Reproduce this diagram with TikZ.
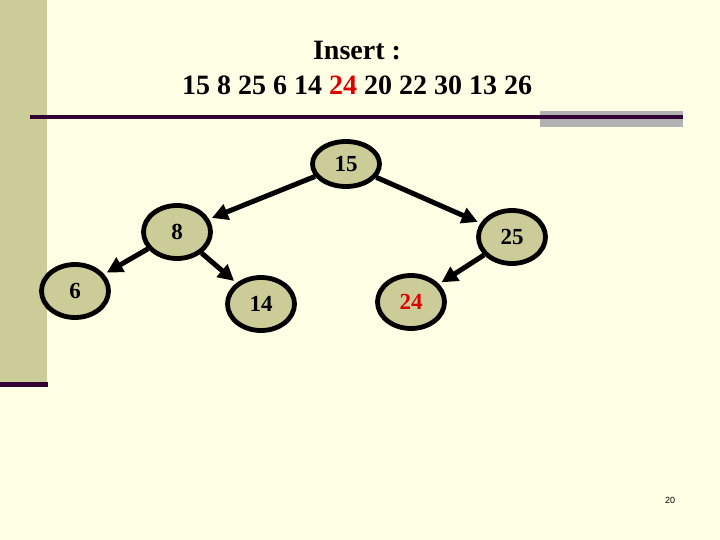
\documentclass[tikz,border=0pt]{standalone}
\usepackage{fontspec}
\setmainfont{Liberation Serif}
\newfontfamily\pagefont{Liberation Sans}
\usepackage{tikz}
\usetikzlibrary{arrows.meta,shapes.geometric}
\definecolor{paper}{HTML}{FFFFE5}
\definecolor{olive}{HTML}{CCCC99}
\definecolor{plum}{HTML}{330033}
\definecolor{rulegray}{HTML}{B2B2B2}
\definecolor{hot}{HTML}{E00000}
\tikzset{
  key/.style={ellipse, draw, line width=4.8pt, fill=olive, minimum width=67pt, minimum height=53pt, inner sep=0pt, font=\fontsize{23}{23}\selectfont\bfseries},
  link/.style={-{Triangle[length=16pt,width=16pt]}, line width=5pt, shorten >=3pt},
  headline/.style={align=center, font=\fontsize{28}{35}\selectfont\bfseries},
}

\begin{document}
\begin{tikzpicture}[x=1pt, y=-1pt]
  \useasboundingbox (0,0) rectangle (720,540);
  \fill[paper] (0,0) rectangle (720,540);
  % side bar and rule
  \fill[olive] (0,0) rectangle (47,382);
  \fill[plum] (0,382) rectangle (48,387);
  \fill[rulegray] (540,111) rectangle (683,127);
  \draw[plum, line width=3.5pt] (30,117) -- (683,117);

  \node[headline] (head) at (357,68) {Insert :\\15 8 25 6 14 \textcolor{hot}{24} 20 22 30 13 26};

  \node[key, minimum height=45pt] (n15) at (346,164) {15};
  \node[key] (n8) at (177,232) {8};
  \node[key] (n25) at (512,237) {25};
  \node[key] (n6) at (75,291) {6};
  \node[key] (n14) at (261,304) {14};
  \node[key, text=hot] (n24) at (411,302) {24};

  \draw[link] (n15) -- (n8);
  \draw[link] (n15) -- (n25);
  \draw[link] (n8) -- (n6);
  \draw[link] (n8) -- (n14);
  \draw[link] (n25) -- (n24);

  \node[font=\pagefont\fontsize{9}{9}\selectfont] (pnum) at (670,500) {20};
\end{tikzpicture}
\end{document}
